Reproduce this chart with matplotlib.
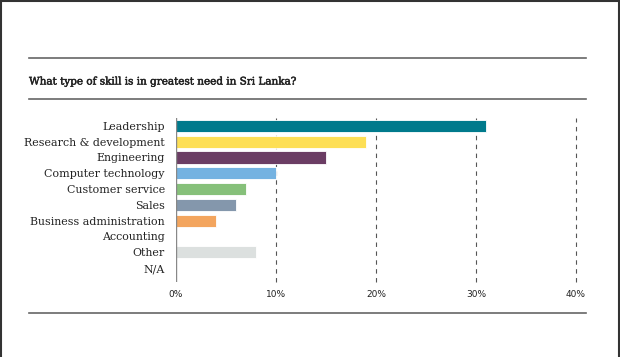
import matplotlib.pyplot as plt
from matplotlib.lines import Line2D
import matplotlib.patheffects as pe

skills = ["Leadership", "Research & development", "Engineering", "Computer technology",
          "Customer service", "Sales", "Business administration", "Accounting", "Other", "N/A"]
shares = [31, 19, 15, 10, 7, 6, 4, 0, 8, 0]
colors = ["#007A8C", "#FDDF55", "#6B3D64", "#74B2E1", "#86C07A", "#8497AC",
          "#F3A55E", "#CCCCCC", "#DCE0DF", "#CCCCCC"]
ticks = [0, 10, 20, 30, 40]
tick_labels = ["0%", "10%", "20%", "30%", "40%"]

fig = plt.figure(figsize=(6.2, 3.57), dpi=100)
ax = fig.add_axes([176 / 620, 1 - 282 / 357, 400 / 620, 164 / 357])

y = list(range(len(skills)))
ax.barh(y, shares, height=0.76, color=colors, edgecolor="white", linewidth=0.6, zorder=2)
ax.set_ylim(9.88, -0.5)
ax.set_xlim(0, 40)

for t in ticks[1:]:
    ax.axvline(t, color="#555555", lw=0.8, ls=(0, (4, 4)), zorder=1, clip_on=False)
ax.axvline(0, color="#888888", lw=1.0, zorder=3)

ax.set_yticks(y)
ax.set_yticklabels(skills, family="DejaVu Serif", fontsize=7.9, color="#222222")
ax.set_xticks(ticks)
ax.set_xticklabels(tick_labels, fontsize=6.5, color="#222222")
ax.tick_params(axis="both", length=0)
ax.tick_params(axis="y", pad=8)
ax.tick_params(axis="x", pad=6)
for s in ax.spines.values():
    s.set_visible(False)

# title and rules
fig.text(29 / 620, 1 - 82 / 357, "What type of skill is in greatest need in Sri Lanka?",
         family="DejaVu Serif", fontsize=7.5, color="#222222", va="center",
         path_effects=[pe.withStroke(linewidth=0.35, foreground="#222222")])
for yy in (58, 99, 313):
    fig.add_artist(Line2D([29 / 620, 586 / 620], [1 - yy / 357] * 2, color="#666666", lw=1.2))

# outer frame
fig.add_artist(Line2D([0.5 / 620, 0.5 / 620], [0, 1], color="#333333", lw=1.5))
fig.add_artist(Line2D([618.5 / 620, 618.5 / 620], [0, 1], color="#333333", lw=1.5))
fig.add_artist(Line2D([0, 1], [1 - 0.5 / 357] * 2, color="#333333", lw=1.5))

fig.savefig("out.png", dpi=100)
